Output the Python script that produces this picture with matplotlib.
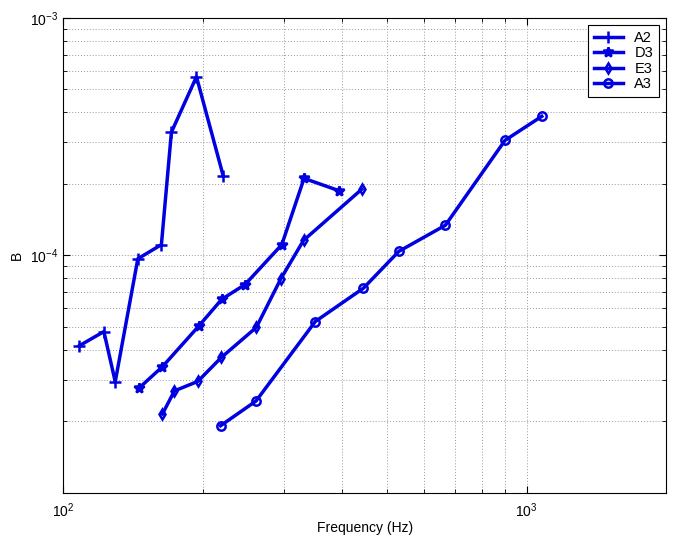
import numpy as np
import matplotlib
matplotlib.use("Agg")
import matplotlib.pyplot as plt
from matplotlib.ticker import LogLocator, NullFormatter, FixedLocator

plt.rcParams['font.family'] = ['Liberation Sans', 'DejaVu Sans']

# values (frequency in Hz, B)
a2_f = [108.5, 122.5, 129.6, 145.0, 163.0, 171.3, 194.0, 221.6]
a2_b = [4.17e-5, 4.78e-5, 2.94e-5, 9.68e-5, 1.11e-4, 3.30e-4, 5.65e-4, 2.16e-4]

d3_f = [146.0, 163.8, 196.0, 220.0, 246.9, 296.4, 331.0, 394.5]
d3_b = [2.77e-5, 3.40e-5, 5.03e-5, 6.54e-5, 7.54e-5, 1.11e-4, 2.11e-4, 1.87e-4]

e3_f = [163.8, 173.9, 195.3, 219.5, 261.2, 294.9, 330.2, 441.0]
e3_b = [2.15e-5, 2.69e-5, 2.95e-5, 3.72e-5, 4.98e-5, 7.97e-5, 1.157e-4, 1.90e-4]

a3_f = [218.7, 260.8, 350.0, 444.5, 530.0, 667.9, 898.0, 1078.0]
a3_b = [1.92e-5, 2.44e-5, 5.27e-5, 7.28e-5, 1.04e-4, 1.34e-4, 3.05e-4, 3.85e-4]

y_major = [1e-4, 1e-3]

series = [("A2", a2_f, a2_b, "+", 8),
          ("D3", d3_f, d3_b, "*", 7),
          ("E3", e3_f, e3_b, "d", 5),
          ("A3", a3_f, a3_b, "o", 6)]

fig = plt.figure(figsize=(6.74, 5.4), dpi=100)
ax = fig.add_axes([0.0935, 0.087, 0.895, 0.880])

for name, f, b, mk, ms in series:
    ax.plot(f, b, color="#0000e0", lw=2.5, marker=mk, ms=ms,
            mew=1.8, mfc="none" if mk in ("o", "d") else "#0000e0",
            label=name)

ax.set_xscale("log")
ax.set_yscale("log")
ax.set_xlim(100, 2000)
ax.set_ylim(1e-5, 1e-3)

ax.yaxis.set_major_locator(FixedLocator(y_major))
ax.xaxis.set_minor_locator(LogLocator(base=10, subs=np.arange(2, 10)))
ax.yaxis.set_minor_locator(LogLocator(base=10, subs=np.arange(2, 10)))
ax.xaxis.set_minor_formatter(NullFormatter())
ax.yaxis.set_minor_formatter(NullFormatter())

ax.grid(True, which="both", linestyle=(0, (1, 2)), color="#999999", lw=0.7)
ax.tick_params(which="both", direction="in", top=True, right=True,
               labelsize=10)
ax.tick_params(which="major", length=5)
ax.tick_params(which="minor", length=3)
ax.tick_params(axis="x", pad=6)

ax.set_xlabel("Frequency (Hz)", fontsize=10, labelpad=1)
ax.set_ylabel("B", fontsize=10)

leg = ax.legend(loc="upper right", fancybox=False, edgecolor="black",
                fontsize=10.5, handlelength=2.0, borderaxespad=0.5,
                labelspacing=0.1, framealpha=1)
leg.get_frame().set_linewidth(0.8)

fig.savefig("out.png", dpi=100)
